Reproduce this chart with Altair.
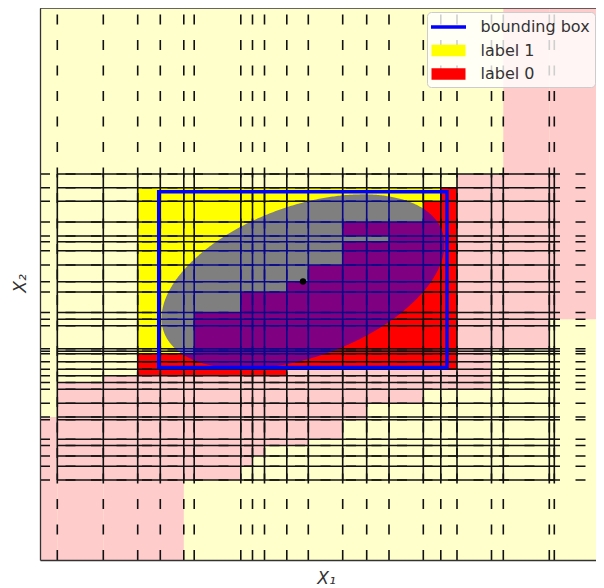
import altair as alt
import numpy as np
import pandas as pd

# ---------------- coordinate frame of the figure ----------------
X_LEFT, X_RIGHT = 40.0, 596.0
Y_TOP, Y_BOTTOM = 8.0, 560.0

# split thresholds (vertical lines at x_splits, horizontal lines at y_splits)
x_splits = [57.3, 103.3, 137.7, 160.3, 183.8, 194.2, 240.8, 252.5, 264.5, 286.8,
            308.3, 342.7, 366.7, 389.0, 423.3, 440.8, 457.0, 491.5, 503.3, 549.3, 554.3]
y_splits = [174.0, 187.7, 201.3, 222.0, 236.0, 241.7, 250.7, 265.0, 281.7, 292.0,
            312.5, 319.2, 325.7, 348.7, 351.2, 353.8, 361.7, 369.2, 375.8, 382.5,
            389.2, 403.2, 417.0, 419.7, 439.2, 445.5, 456.0, 466.3, 480.0]

# light background: leaves predicted "label 0" (everything else is "label 1")
leaf0_x0 = [503.3, 549.3, 457.0, 423.3, 40.0, 57.3, 103.3, 183.8, 240.8, 252.5, 264.5, 308.3, 342.7, 366.7]
leaf0_x1 = [549.3, 596.0, 549.3, 491.5, 57.3, 103.3, 183.8, 240.8, 252.5, 264.5, 308.3, 342.7, 366.7, 423.3]
leaf0_y0 = [8.0, 8.0, 174.0, 348.7, 417.0, 382.5, 375.8, 369.2, 369.2, 369.2, 369.2, 369.2, 369.2, 369.2]
leaf0_y1 = [174.0, 319.2, 348.7, 389.2, 560.0, 560.0, 560.0, 480.0, 466.3, 456.0, 445.5, 439.2, 419.7, 403.2]

# strong cells inside the region of interest
core_label = ["label 1", "label 1",
              "label 0", "label 0", "label 0", "label 0", "label 0", "label 0",
              "label 0", "label 0", "label 0", "label 0"]
core_x0 = [137.7, 286.8, 440.8, 423.3, 389.0, 342.7, 342.7, 308.3, 286.8, 240.8, 194.2, 137.7]
core_x1 = [286.8, 457.0, 457.0, 440.8, 423.3, 389.0, 389.0, 342.7, 308.3, 286.8, 240.8, 194.2]
core_y0 = [187.7, 187.7, 187.7, 201.3, 222.0, 222.0, 241.7, 265.0, 281.7, 292.0, 312.5, 353.8]
core_y1 = [375.8, 369.2, 369.2, 369.2, 369.2, 236.0, 369.2, 369.2, 369.2, 375.8, 375.8, 375.8]

# ellipse and its bounding box
ell_cx, ell_cy = 303.0, 281.5
ell_a, ell_b = 148.0, 75.5
ell_angle = 20.0
bbox_x = [158.7, 447.0]
bbox_y = [191.7, 367.5]

series = ["bounding box", "label 1", "label 0"]
series_colors = ["#0000ff", "#ffff00", "#ff0000"]

# ---------------- build tables ----------------
leaf0 = pd.DataFrame({"x0": leaf0_x0, "x1": leaf0_x1, "y0": leaf0_y0, "y1": leaf0_y1})
core = pd.DataFrame({"label": core_label, "x0": core_x0, "x1": core_x1, "y0": core_y0, "y1": core_y1})
vlines = pd.DataFrame({"x": x_splits})
hlines = pd.DataFrame({"y": y_splits})

th = np.deg2rad(ell_angle)
c, s = np.cos(th), np.sin(th)
A = c**2 / ell_a**2 + s**2 / ell_b**2
B = 2 * s * c * (1 / ell_a**2 - 1 / ell_b**2)
C = s**2 / ell_a**2 + c**2 / ell_b**2
W = np.sqrt(ell_a**2 * c**2 + ell_b**2 * s**2)
t = np.linspace(0, np.pi, 301)
dx = -W * np.cos(t)
disc = np.clip(B**2 * dx**2 - 4 * C * (A * dx**2 - 1), 0, None)
up = (-B * dx + np.sqrt(disc)) / (2 * C)
lo = (-B * dx - np.sqrt(disc)) / (2 * C)
ellipse = pd.DataFrame({"x": ell_cx + dx, "yt": ell_cy - up, "yb": ell_cy - lo})

bbox = pd.DataFrame({"x0": [bbox_x[0]], "x1": [bbox_x[1]], "y0": [bbox_y[0]], "y1": [bbox_y[1]]})
center = pd.DataFrame({"x": [ell_cx], "y": [ell_cy]})
legend_df = pd.DataFrame({"series": series})
frame_top = pd.DataFrame({"y": [Y_TOP]})

# ---------------- scales / axes ----------------
xs = alt.Scale(domain=[X_LEFT, X_RIGHT], nice=False, zero=False)
ys = alt.Scale(domain=[Y_TOP, Y_BOTTOM], nice=False, zero=False, reverse=True)
frame_color = "#333333"
x_axis = alt.Axis(title="X₁", labels=False, ticks=False, domain=True, grid=False, zindex=1,
                  domainColor=frame_color, domainWidth=1.3,
                  titleFont="DejaVu Sans", titleFontStyle="italic", titleFontWeight="normal",
                  titleFontSize=17, titleColor="#333333", titleX=286, titleY=23,
                  titleAlign="center", titleBaseline="alphabetic")
y_axis = alt.Axis(title="X₂", labels=False, ticks=False, domain=True, grid=False, zindex=1,
                  domainColor=frame_color, domainWidth=1.3,
                  titleFont="DejaVu Sans", titleFontStyle="italic", titleFontWeight="normal",
                  titleFontSize=17, titleColor="#333333", titleAngle=270, titleX=-15, titleY=275,
                  titleAlign="center", titleBaseline="alphabetic")

def X(f):
    return alt.X(f, scale=xs, axis=x_axis)

def Y(f):
    return alt.Y(f, scale=ys, axis=y_axis)

line_color = "#111111"
dash = [10, 15.5]

bg_layer = alt.Chart(leaf0).mark_rect(color="#ffcccc").encode(
    x=X("x0:Q"), x2="x1:Q", y=Y("y0:Q"), y2="y1:Q")

core1 = alt.Chart(core).transform_filter(alt.datum.label == "label 1").mark_rect(color="#ffff00").encode(
    x=X("x0:Q"), x2="x1:Q", y=Y("y0:Q"), y2="y1:Q")
core0 = alt.Chart(core).transform_filter(alt.datum.label == "label 0").mark_rect(color="#ff0000").encode(
    x=X("x0:Q"), x2="x1:Q", y=Y("y0:Q"), y2="y1:Q")

v_dash = alt.Chart(vlines).mark_rule(color=line_color, strokeWidth=1.6, strokeDash=dash).encode(
    x=X("x:Q"), y=alt.YDatum(Y_BOTTOM, scale=ys, axis=y_axis), y2=alt.Y2Datum(Y_TOP))
h_dash = alt.Chart(hlines).mark_rule(color=line_color, strokeWidth=1.6, strokeDash=dash).encode(
    y=Y("y:Q"), x=alt.XDatum(X_LEFT, scale=xs, axis=x_axis), x2=alt.X2Datum(X_RIGHT))
v_solid = alt.Chart(vlines).mark_rule(color=line_color, strokeWidth=1.6).encode(
    x=X("x:Q"), y=alt.YDatum(max(y_splits), scale=ys, axis=y_axis), y2=alt.Y2Datum(min(y_splits)))
h_solid = alt.Chart(hlines).mark_rule(color=line_color, strokeWidth=1.6).encode(
    y=Y("y:Q"), x=alt.XDatum(min(x_splits), scale=xs, axis=x_axis), x2=alt.X2Datum(max(x_splits)))

ell_layer = alt.Chart(ellipse).mark_area(color="#0000ff", opacity=0.5).encode(
    x=X("x:Q"), y=Y("yt:Q"), y2="yb:Q")

bbox_layer = alt.Chart(bbox).mark_rect(filled=False, stroke="#0000ff", strokeWidth=3.5).encode(
    x=X("x0:Q"), x2="x1:Q", y=Y("y0:Q"), y2="y1:Q")

center_layer = alt.Chart(center).mark_point(filled=True, color="black", size=40, opacity=1).encode(
    x=X("x:Q"), y=Y("y:Q"))

top_frame = alt.Chart(frame_top).mark_rule(color=frame_color, strokeWidth=1.3).encode(
    y=Y("y:Q"), x=alt.XDatum(X_LEFT, scale=xs, axis=x_axis), x2=alt.X2Datum(X_RIGHT))

line_shape = "M-1.75,-0.17H1.75V0.17H-1.75Z"
patch_shape = "M-1.7,-0.58H1.7V0.58H-1.7Z"
legend = alt.Legend(title=None, orient="none", legendX=387, legendY=4,
                    fillColor="rgba(255,255,255,0.8)", strokeColor="#cccccc", cornerRadius=4,
                    padding=5, symbolSize=400, symbolStrokeWidth=0, symbolOpacity=1,
                    symbolOffset=6.5, labelOffset=22, rowPadding=5.5,
                    labelFont="DejaVu Sans", labelFontSize=16, labelColor="#333333", labelLimit=0)
legend_layer = alt.Chart(legend_df).mark_point(filled=True, opacity=0).encode(
    x=alt.XDatum(ell_cx, scale=xs, axis=x_axis), y=alt.YDatum(ell_cy, scale=ys, axis=y_axis),
    color=alt.Color("series:N", scale=alt.Scale(domain=series, range=series_colors), legend=legend),
    shape=alt.Shape("series:N", scale=alt.Scale(domain=series, range=[line_shape, patch_shape, patch_shape]),
                    legend=legend))

chart = alt.layer(
    bg_layer, core1, core0, v_dash, h_dash, v_solid, h_solid,
    ell_layer, bbox_layer, center_layer, top_frame, legend_layer
).properties(
    width=556, height=552,
    autosize=alt.AutoSizeParams(type="none"),
    padding={"left": 32, "top": 0, "right": 0, "bottom": 28},
).configure_view(stroke="transparent", fill="#ffffcc")

chart.save("out.html", embed_options={"renderer": "svg", "actions": False})
